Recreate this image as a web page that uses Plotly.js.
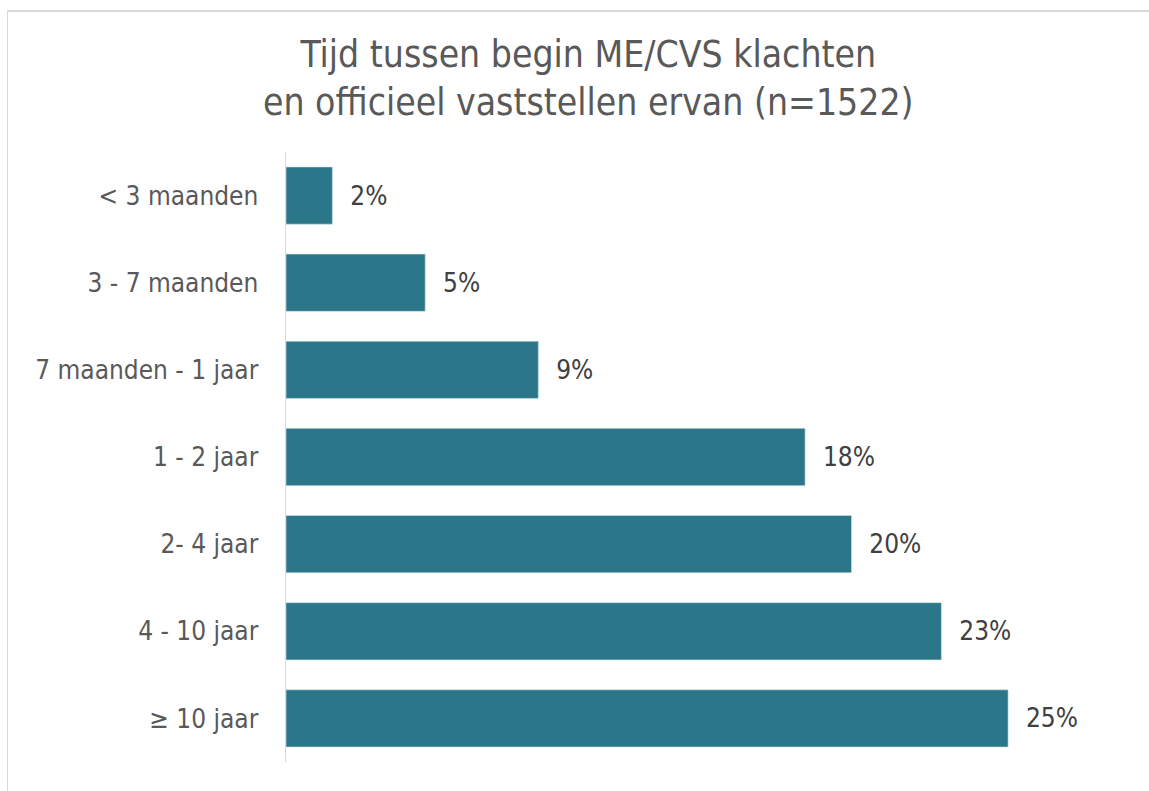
<!DOCTYPE html>
<html>
<head>
<meta charset="utf-8">
<script src="https://cdn.plot.ly/plotly-3.0.1.min.js"></script>
<style>
  html, body { margin: 0; padding: 0; background: #ffffff; }
  #frame { position: absolute; left: 7px; top: 10px; width: 1200px; height: 900px;
           border-left: 1px solid #d9d9d9; border-top: 2px solid #d9d9d9; }
  #chart { position: absolute; left: 0; top: 0; width: 1149px; height: 791px; }
</style>
</head>
<body>
<div id="frame"></div>
<div id="chart"></div>
<script>
const categories = ["< 3 maanden", "3 - 7 maanden", "7 maanden - 1 jaar", "1 - 2 jaar", "2- 4 jaar", "4 - 10 jaar", "≥ 10 jaar"];
const values = [1.6, 4.8, 8.7, 17.9, 19.5, 22.6, 24.9];
const labels = ["2%", "5%", "9%", "18%", "20%", "23%", "25%"];

const trace = {
  type: 'bar',
  orientation: 'h',
  x: values,
  y: categories,
  text: labels.map(l => '\u00a0\u00a0' + l),
  textposition: 'outside',
  cliponaxis: false,
  textfont: { family: 'DejaVu Sans Condensed, DejaVu Sans', size: 26, color: '#404040' },
  marker: { color: '#2B7789', line: { color: '#cfe4ea', width: 0.6 } },
  hoverinfo: 'none'
};

const layout = {
  width: 1149, height: 791,
  paper_bgcolor: 'rgba(0,0,0,0)',
  plot_bgcolor: 'rgba(0,0,0,0)',
  margin: { l: 286, r: 51, t: 152, b: 29 },
  bargap: 0.343,
  showlegend: false,
  title: {
    text: 'Tijd tussen begin ME/CVS klachten<br>en officieel vaststellen ervan (n=1522)',
    font: { family: 'DejaVu Sans Condensed, DejaVu Sans', size: 37, color: '#595959' },
    x: 0.512, xanchor: 'center', xref: 'container',
    y: 0.915, yanchor: 'middle', yref: 'container'
  },
  xaxis: {
    range: [0, 28],
    showgrid: false, zeroline: false, showline: false,
    showticklabels: false, ticks: ''
  },
  yaxis: {
    type: 'category',
    autorange: 'reversed',
    showgrid: false, zeroline: false,
    showline: true, linecolor: '#d9d9d9', linewidth: 1.5,
    ticks: 'outside', ticklen: 21, tickcolor: 'rgba(0,0,0,0)',
    tickfont: { family: 'DejaVu Sans Condensed, DejaVu Sans', size: 26, color: '#595959' }
  }
};

Plotly.newPlot('chart', [trace], layout, { displayModeBar: false, staticPlot: true });
</script>
</body>
</html>
